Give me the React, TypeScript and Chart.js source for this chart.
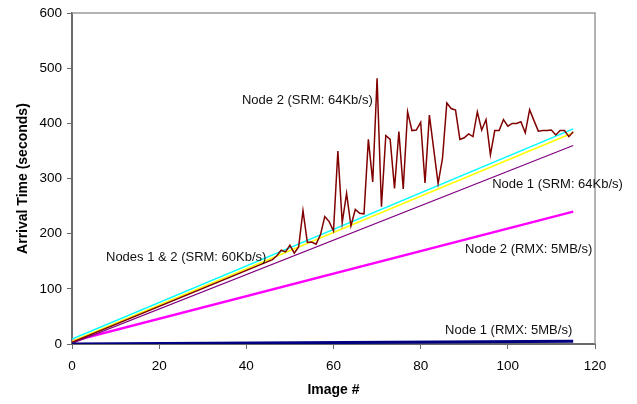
import React, { useEffect, useRef } from "react";
import { Chart, registerables } from "chart.js";

Chart.register(...registerables);

// Axis ranges / ticks
const xRange = [0, 120];
const xStep = 20;
const yRange = [0, 600];
const yStep = 100;

// Node 2 (SRM: 64Kb/s) – dark red
const node2Srm64X = [
  0, 46, 47, 48, 49, 50, 51, 52, 53, 54, 55, 56, 57, 58, 59, 60, 61, 62, 63, 64, 65, 66, 67, 68, 69, 70,
  71, 72, 73, 74, 75, 76, 77, 78, 79, 80, 81, 82, 83, 84, 85, 86, 87, 88, 89, 90, 91, 92, 93, 94, 95,
  96, 97, 98, 99, 100, 101, 102, 103, 104, 105, 106, 107, 108, 109, 110, 111, 112, 113, 114, 115,
];
const node2Srm64Y = [
  3, 153, 160, 170, 167, 179, 165, 176, 242, 184, 185, 181, 198, 231, 222, 205, 350, 220, 273, 214, 244, 237, 236, 371, 294, 482,
  249, 378, 371, 282, 385, 281, 421, 387, 388, 402, 292, 415, 353, 291, 336, 437, 427, 424, 371, 374, 381, 376, 421, 388, 407,
  343, 387, 387, 407, 395, 400, 400, 403, 383, 425, 405, 386, 387, 387, 388, 379, 387, 387, 376, 385,
];

// Straight series (start / end image numbers and times)
const lineX = [0, 115];
const nodes12Srm60CyanY = [9, 390];
const nodes12Srm60YellowY = [5, 383];
const node1Srm64Y = [1, 360];
const node2Rmx5Y = [5, 240];
const node1Rmx5Y = [0, 5];

// Text labels anchored in data coordinates (image #, seconds)
const labelTexts = [
  "Node 2 (SRM: 64Kb/s)",
  "Node 1 (SRM: 64Kb/s)",
  "Nodes 1 & 2 (SRM: 60Kb/s)",
  "Node 2 (RMX: 5MB/s)",
  "Node 1 (RMX: 5MB/s)",
];
const labelX = [39.0, 96.4, 7.8, 90.2, 85.6];
const labelY = [441, 290, 157, 171, 24];

const FONT = "'Liberation Sans', Arial, Helvetica, sans-serif";

const toPoints = (xs: number[], ys: number[]) => xs.map((x, i) => ({ x, y: ys[i] }));

export default function App() {
  const ref = useRef<HTMLCanvasElement | null>(null);

  useEffect(() => {
    document.body.style.margin = "0";
    const canvas = ref.current;
    if (!canvas) return;

    const labelsPlugin = {
      id: "labelsPlugin",
      afterDraw(chart: any) {
        const { ctx, chartArea, scales } = chart;
        ctx.save();
        // plot-area frame (top and right)
        ctx.strokeStyle = "#9a9a9a";
        ctx.lineWidth = 1.5;
        ctx.beginPath();
        ctx.moveTo(chartArea.left, chartArea.top);
        ctx.lineTo(chartArea.right, chartArea.top);
        ctx.lineTo(chartArea.right, chartArea.bottom);
        ctx.stroke();
        // text labels
        ctx.fillStyle = "#111";
        ctx.font = `13px ${FONT}`;
        ctx.textAlign = "left";
        ctx.textBaseline = "middle";
        labelTexts.forEach((t, i) => {
          const px = scales.x.getPixelForValue(labelX[i]);
          const py = scales.y.getPixelForValue(labelY[i]);
          ctx.fillText(t, px, py);
        });
        ctx.restore();
      },
    };

    const ds = (data: any[], color: string, width: number) => ({
      data,
      borderColor: color,
      backgroundColor: color,
      borderWidth: width,
      showLine: true,
      pointRadius: 0,
      pointHoverRadius: 0,
      fill: false,
      tension: 0,
    });

    const chart = new Chart(canvas, {
      type: "scatter",
      data: {
        datasets: [
          ds(toPoints(lineX, node1Rmx5Y), "#000080", 3),
          ds(toPoints(node2Srm64X, node2Srm64Y), "#800000", 1.5),
          ds(toPoints(lineX, nodes12Srm60CyanY), "#00FFFF", 1.5),
          ds(toPoints(lineX, nodes12Srm60YellowY), "#FFFF00", 1.5),
          ds(toPoints(lineX, node1Srm64Y), "#800080", 1.2),
          ds(toPoints(lineX, node2Rmx5Y), "#FF00FF", 2.5),
        ],
      },
      options: {
        animation: false,
        responsive: false,
        devicePixelRatio: 1,
        layout: { padding: { top: 11, right: 42, bottom: 0, left: 0 } },
        plugins: {
          legend: { display: false },
          tooltip: { enabled: false },
        },
        scales: {
          x: {
            type: "linear",
            min: xRange[0],
            max: xRange[1],
            ticks: { stepSize: xStep, color: "#000", font: { family: FONT, size: 13.5 }, padding: 9, maxRotation: 0 },
            grid: { display: true, drawOnChartArea: false, drawTicks: true, tickLength: 5, color: "#6a6a6a", lineWidth: 1 },
            border: { display: true, color: "#6a6a6a", width: 2 },
            title: {
              display: true,
              text: "Image #",
              color: "#000",
              font: { family: FONT, size: 14, weight: "bold" },
              padding: { top: 0, bottom: 5 },
            },
            afterFit(scale: any) {
              scale.height = 60;
            },
          },
          y: {
            type: "linear",
            min: yRange[0],
            max: yRange[1],
            ticks: { stepSize: yStep, color: "#000", font: { family: FONT, size: 13.5 }, padding: 5 },
            grid: { display: true, drawOnChartArea: false, drawTicks: true, tickLength: 5, color: "#6a6a6a", lineWidth: 1 },
            border: { display: true, color: "#6a6a6a", width: 2 },
            title: {
              display: true,
              text: "Arrival Time (seconds)",
              color: "#000",
              font: { family: FONT, size: 14, weight: "bold" },
              padding: { top: 15, bottom: 0 },
            },
            afterFit(scale: any) {
              scale.width = 72;
            },
          },
        },
      } as any,
      plugins: [labelsPlugin],
    });

    return () => chart.destroy();
  }, []);

  return (
    <div style={{ width: 637, height: 404 }}>
      <canvas ref={ref} width={637} height={404} style={{ display: "block" }} />
    </div>
  );
}
